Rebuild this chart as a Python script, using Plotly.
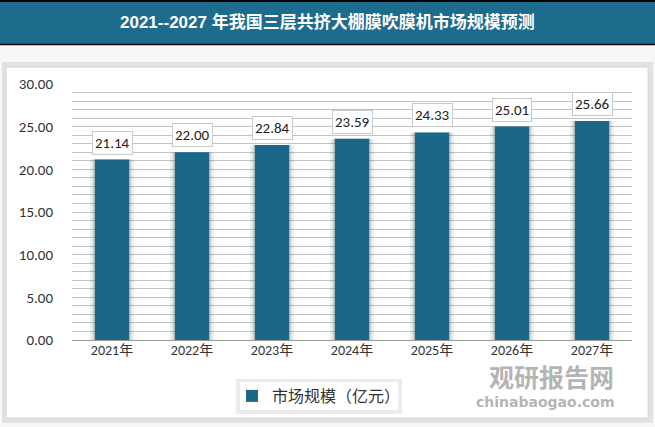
import plotly.graph_objects as go

categories = ["2021年", "2022年", "2023年", "2024年", "2025年", "2026年", "2027年"]
values = [21.14, 22.00, 22.84, 23.59, 24.33, 25.01, 25.66]
series_name = "市场规模（亿元）"
title_text = "2021--2027 年我国三层共挤大棚膜吹膜机市场规模预测"
y_ticks = [0, 5, 10, 15, 20, 25, 30]

FONT = "Calibri, Carlito, 'Open Sans', 'Noto Sans CJK SC', sans-serif"
BAR = "#1b6789"

W, H = 655, 427
L, R, T, B = 72, 632, 84, 340
def px(x): return (x - L) / (R - L)
def py(y): return (B - y) / (B - T)

fig = go.Figure()
# soft shadow behind bars
for w, a in [(0.56, 0.06), (0.51, 0.09), (0.47, 0.12)]:
    fig.add_trace(go.Bar(
        x=categories, y=values, width=w, showlegend=False, hoverinfo="skip",
        marker=dict(color=f"rgba(60,60,60,{a})", line=dict(width=0)),
    ))
fig.add_trace(go.Bar(
    x=categories, y=values, name=series_name,
    marker=dict(color=BAR, line=dict(width=0)),
    width=0.43,
    hoverinfo="skip",
))

annotations = []
for c, v in zip(categories, values):
    annotations.append(dict(
        x=c, y=v, xref="x", yref="y", text=f"{v:.2f}", showarrow=False,
        yanchor="bottom", yshift=5,
        font=dict(family=FONT, size=15, color="#222222"),
        bgcolor="white", bordercolor="#c8c8c8", borderwidth=1, borderpad=2,
    ))

annotations.append(dict(
    x=px(327), y=py(22), xref="paper", yref="paper", xanchor="center", yanchor="middle",
    text="<b>" + title_text + "</b>", showarrow=False,
    font=dict(family="Arial, 'Noto Sans CJK SC', sans-serif", size=17, color="white"),
))
# watermark
annotations.append(dict(
    x=px(616), y=py(376), xref="paper", yref="paper", xanchor="right", yanchor="middle",
    text="<b>观研报告网</b>", showarrow=False,
    font=dict(family="'Noto Sans CJK SC', sans-serif", size=25, color="rgba(130,130,130,0.6)"),
))
annotations.append(dict(
    x=px(616), y=py(402), xref="paper", yref="paper", xanchor="right", yanchor="middle",
    text="<b>chinabaogao.com</b>", showarrow=False,
    font=dict(family="'DejaVu Sans', sans-serif", size=14, color="rgba(130,130,130,0.6)"),
))

shapes = [
    # header band
    dict(type="rect", xref="paper", yref="paper", x0=px(0), x1=px(W), y0=py(45), y1=py(0),
         fillcolor="#1d6b8d", line=dict(width=0), layer="below"),
    dict(type="line", xref="paper", yref="paper", x0=px(0), x1=px(W), y0=py(1), y1=py(1),
         line=dict(color="black", width=2)),
    dict(type="line", xref="paper", yref="paper", x0=px(0), x1=px(W), y0=py(44.5), y1=py(44.5),
         line=dict(color="black", width=1.5)),
    # panel shadow
    dict(type="rect", xref="paper", yref="paper", x0=px(2), x1=px(653), y0=py(423), y1=py(62),
         fillcolor="#e2e2e2", line=dict(width=0), layer="below"),
    dict(type="rect", xref="paper", yref="paper", x0=px(6), x1=px(648), y0=py(418), y1=py(67),
         fillcolor="white", line=dict(color="#d6d6d6", width=1), layer="below"),
    # legend box with shadow
    dict(type="rect", xref="paper", yref="paper", x0=px(236), x1=px(402), y0=py(414), y1=py(379),
         fillcolor="#ececec", line=dict(width=0), layer="below"),
    dict(type="rect", xref="paper", yref="paper", x0=px(240), x1=px(398), y0=py(410), y1=py(382),
         fillcolor="white", line=dict(width=0), layer="below"),
]

fig.update_layout(
    width=W, height=H,
    margin=dict(l=L, r=W - R, t=T, b=H - B, autoexpand=False),
    paper_bgcolor="#f7f7f7",
    plot_bgcolor="#eaf1f8",
    font=dict(family=FONT, size=14, color="#333333"),
    barmode="overlay",
    showlegend=True,
    legend=dict(
        orientation="h", x=px(232), y=py(396), xanchor="left", yanchor="middle",
        bgcolor="rgba(0,0,0,0)", borderwidth=0,
        font=dict(family="'Noto Sans CJK SC', sans-serif", size=16, color="#333333"),
        itemwidth=30,
    ),
    xaxis=dict(
        showgrid=False, showline=False, ticks="",
        tickfont=dict(family=FONT, size=14, color="#333333"),
    ),
    yaxis=dict(
        range=[0, 30], tickvals=y_ticks, ticktext=[f"{t:.2f}" for t in y_ticks],
        showgrid=True, gridcolor="#c0c4c8", gridwidth=1,
        zeroline=True, zerolinecolor="#9a9a9a", zerolinewidth=1,
        minor=dict(dtick=1, showgrid=True, gridcolor="#c0c4c8", gridwidth=1),
        tickfont=dict(family=FONT, size=15, color="#333333"),
        ticklabelstandoff=18,
    ),
    annotations=annotations,
    shapes=shapes,
)

fig.write_html("out.html", config={"displayModeBar": False},
               post_script="document.body.style.margin='0';")
